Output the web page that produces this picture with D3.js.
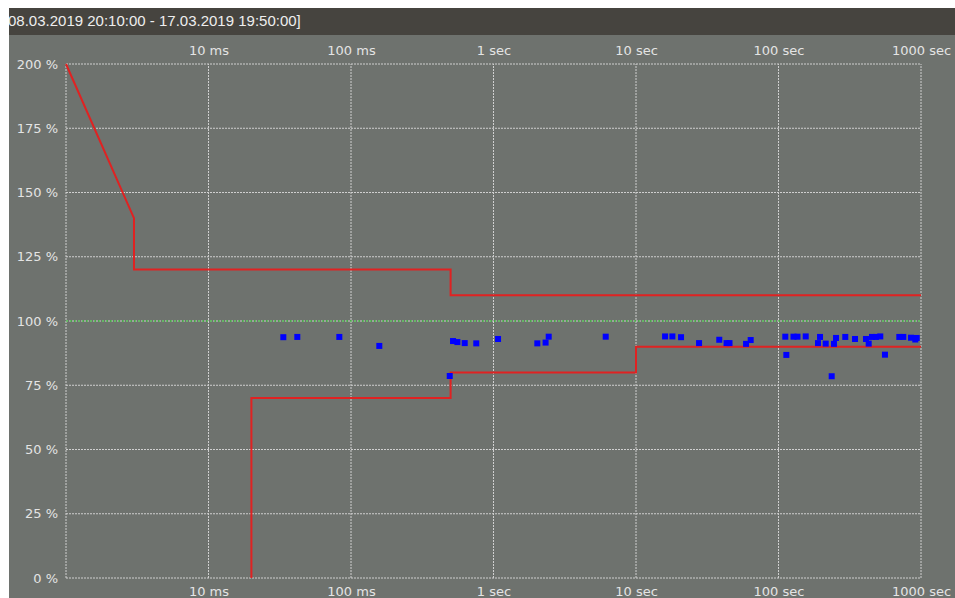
<!DOCTYPE html>
<meta charset="utf-8">
<html>
<head>
<style>
  body { margin: 0; background: #fff; }
  .tick text { fill: #e4e4e4; font-family: "DejaVu Sans", sans-serif; font-size: 13px; }
  .grid { stroke: #cfcfcf; stroke-width: 1; stroke-dasharray: 2,1; fill: none; }
  .limit { fill: none; stroke: #e02222; stroke-width: 2px; }
  .ref { stroke: #2ecc2e; stroke-width: 1px; stroke-dasharray: 2,2; }
  .dot { fill: #0000ff; }
</style>
</head>
<body>
<svg width="955" height="598"></svg>
<script src="https://d3js.org/d3.v7.min.js"></script>
<script>

// header
var title = "08.03.2019 20:10:00 - 17.03.2019 19:50:00]";

// x ticks (seconds) and their labels
var xTicks = [0.01, 0.1, 1, 10, 100, 1000];
var xLabels = ["10 ms", "100 ms", "1 sec", "10 sec", "100 sec", "1000 sec"];
var yTicks = [0, 25, 50, 75, 100, 125, 150, 175, 200];

// upper limit curve
var upperT = [0.001, 0.003, 0.003, 0.5, 0.5, 1000];
var upperV = [200, 140, 120, 120, 110, 110];

// lower limit curve
var lowerT = [0.02, 0.02, 0.5, 0.5, 10, 10, 1000];
var lowerV = [0, 70, 70, 80, 80, 90, 90];

// reference line
var refV = 100;

// measured events (duration in s, voltage in %)
var pointT = [0.0335, 0.042, 0.0828, 0.158, 0.493, 0.520, 0.558, 0.628, 0.757, 1.076,
              2.03, 2.32, 2.44, 6.13, 16.0, 18.0, 20.7, 27.7, 38.4, 43.2,
              45.3, 59.2, 63.8, 111.6, 113.5, 127.4, 135.9, 155.2, 189.3, 195.6,
              214.4, 236.2, 245.1, 253.3, 294.2, 344.3, 411, 429.5, 453, 483.5,
              517.9, 558.7, 704.3, 751.4, 850.5, 912, 933];
var pointV = [93.7, 93.8, 93.8, 90.3, 78.6, 92.2, 91.8, 91.4, 91.3, 93.0,
              91.3, 91.6, 93.9, 93.9, 94.0, 94.0, 93.7, 91.4, 92.7, 91.4,
              91.4, 91.1, 92.6, 93.9, 86.8, 93.9, 93.9, 94.0, 91.4, 93.8,
              91.2, 78.5, 91.1, 93.4, 93.8, 93.0, 93.0, 91.2, 93.8, 93.8,
              94.0, 86.9, 93.8, 93.8, 93.5, 92.8, 93.4];

var svg = d3.select("svg");

// backgrounds
svg.append("rect").attr("x", 9).attr("y", 8).attr("width", 946).attr("height", 590).attr("fill", "#6e726e");
svg.append("rect").attr("x", 9).attr("y", 8).attr("width", 946).attr("height", 27).attr("fill", "#46443f");

svg.append("defs").append("clipPath").attr("id", "hdr")
    .append("rect").attr("x", 9).attr("y", 8).attr("width", 946).attr("height", 27);

svg.append("text")
    .attr("clip-path", "url(#hdr)")
    .attr("x", 8).attr("y", 26)
    .attr("fill", "#eeeeee")
    .style("font-family", "'Liberation Sans', Arial, sans-serif")
    .style("font-size", "15px")
    .text(title);

var x = d3.scaleLog().domain([0.001, 1000]).range([66, 921]);
var y = d3.scaleLinear().domain([0, 200]).range([578, 64]);

// grid
var grid = svg.append("g");
grid.selectAll(".hg").data(yTicks).enter().append("line")
    .attr("class", "grid")
    .attr("x1", x(0.001)).attr("x2", x(1000))
    .attr("y1", function(d) { return y(d); })
    .attr("y2", function(d) { return y(d); });
grid.selectAll(".vg").data([0.001].concat(xTicks)).enter().append("line")
    .attr("class", "grid")
    .attr("x1", function(d) { return x(d); })
    .attr("x2", function(d) { return x(d); })
    .attr("y1", y(0)).attr("y2", y(200));

// axes (labels only)
var fmt = function(d, i) { return xLabels[i]; };
svg.append("g").attr("transform", "translate(0," + y(200) + ")")
    .call(d3.axisTop(x).tickValues(xTicks).tickFormat(fmt).tickSize(0).tickPadding(9));
svg.append("g").attr("transform", "translate(0," + y(0) + ")")
    .call(d3.axisBottom(x).tickValues(xTicks).tickFormat(fmt).tickSize(0).tickPadding(9));
svg.append("g").attr("transform", "translate(" + x(0.001) + ",0)")
    .call(d3.axisLeft(y).tickValues(yTicks).tickFormat(function(d) { return d + " %"; }).tickSize(0).tickPadding(8));
svg.selectAll(".domain").remove();

// reference line
svg.append("line").attr("class", "ref")
    .attr("x1", x(0.001)).attr("x2", x(1000))
    .attr("y1", y(refV)).attr("y2", y(refV));

// limit curves
var line = d3.line()
    .x(function(d) { return x(d[0]); })
    .y(function(d) { return y(d[1]); });

svg.append("path").attr("class", "limit")
    .attr("d", line(d3.zip(upperT, upperV)));
svg.append("path").attr("class", "limit")
    .attr("d", line(d3.zip(lowerT, lowerV)));

// events
svg.selectAll(".dot").data(d3.zip(pointT, pointV)).enter().append("rect")
    .attr("class", "dot")
    .attr("x", function(d) { return x(d[0]) - 3; })
    .attr("y", function(d) { return y(d[1]) - 3; })
    .attr("width", 6).attr("height", 6);

</script>
</body>
</html>
